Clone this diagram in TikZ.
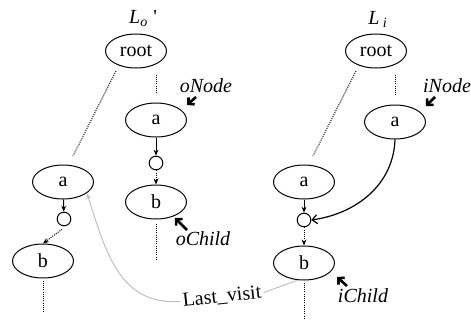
\documentclass[tikz,border=0pt]{standalone}
\usepackage{fontspec}
\setmainfont{Liberation Serif}
\usetikzlibrary{arrows.meta,calc,shapes.geometric}
\begin{document}
\begin{tikzpicture}[x=0.5pt,y=-0.5pt,
  font=\fontsize{10}{12}\selectfont,
  tnode/.style={draw,ellipse,line width=0.5pt,minimum width=30.5pt,minimum height=17pt,inner sep=0pt},
  hub/.style={draw,circle,line width=0.5pt,minimum size=6.8pt,inner sep=0pt},
  dotline/.style={line width=0.5pt,dash pattern=on 0.5pt off 0.6pt},
  arr/.style={line width=0.5pt,-{Stealth[length=3pt,width=2.4pt]}},
  dotarr/.style={dotline,-{Stealth[length=3pt,width=2.4pt]}},
  openarr/.style={line width=0.6pt,-{Straight Barb[length=2.5pt,width=4.5pt]}},
  ptr/.style={line width=1.3pt,-{Straight Barb[length=2.2pt,width=4.6pt]}},
  lbl/.style={font=\fontsize{10}{12}\selectfont\itshape,inner sep=0pt},
  visit/.style={line width=0.5pt,draw=black!25},
]
\useasboundingbox (0,0) rectangle (471,322);

% list titles
\node (lo) at (143,19) {\textit{L}\textsubscript{\textit{o}} \textquotesingle};
\node (li) at (378,19) {\textit{L}\,\textsubscript{\textit{i}}};

% L_o' tree
\node[tnode] (oroot) at (136,51) {root};
\node[tnode] (oa) at (156,120) {a};
\node[hub]   (oc) at (156,163) {};
\node[tnode] (ob) at (156,202) {b};
\node[tnode] (la) at (63,182) {a};
\node[hub]   (lc) at (64,219) {};
\node[tnode] (lb) at (43,261) {b};

% L_i tree
\node[tnode] (iroot) at (376,51) {root};
\node[tnode] (ia) at (395,122) {a};
\node[tnode] (ra) at (304,182) {a};
\node[hub]   (rc) at (304,220) {};
\node[tnode] (rb) at (304,263) {b};

% elided paths below the roots
\draw[dotline] ($(oroot)+(-10pt,-10pt)$) -- ($(la)+(5pt,13pt)$);
\draw[dotline] ($(oroot.south -| oa)+(0,-3pt)$) -- ($(oa.north)+(0,4.5pt)$);
\draw[dotline] ($(iroot)+(-10pt,-10pt)$) -- ($(ra)+(4.5pt,13pt)$);
\draw[dotline] ($(iroot.south -| ia)+(0,-3pt)$) -- ($(ia.north)+(0,4.5pt)$);

% child links
\draw[arr] (oa) -- (oc);
\draw[dotarr] (oc) -- (ob);
\draw[arr] (la) -- (lc);
\draw[dotarr] ($(lc.south)+(-1pt,-1.5pt)$) -- (lb.north);
\draw[arr] (ra) -- (rc);
\draw[dotarr] (rc) -- (rb);
\draw[openarr] (ia.south) to[out=-92,in=8] (rc.east);

% elided paths below the leaves
\draw[dotline] ($(ob.south)+(0,-2pt)$) -- ++(0,-18pt);
\draw[dotline] ($(lb.south)+(0,-1pt)$) -- ++(0,-16pt);
\draw[dotline] ($(rb.south)+(0,-1pt)$) -- ++(0,-18pt);

% pointer labels
\node[lbl] (onl) at (206,86) {oNode};
\node[lbl] (inl) at (447,86) {iNode};
\node[lbl] (ocl) at (203,239) {oChild};
\node[lbl] (icl) at (363,296) {iChild};
\coordinate (ontail) at (196,97);  \coordinate (onhead) at (187,105);
\coordinate (intail) at (435,97);  \coordinate (inhead) at (426,106);
\coordinate (octail) at (187,230); \coordinate (ochead) at (175,218);
\coordinate (ictail) at (347,286); \coordinate (ichead) at (337,277);
\draw[ptr] (ontail) -- (onhead);
\draw[ptr] (intail) -- (inhead);
\draw[ptr] (octail) -- (ochead);
\draw[ptr] (ictail) -- (ichead);

% last visited link
\node[rotate=6,inner sep=1pt] (lv) at (222,297) {Last\_visit};
\draw[visit] (rb.250) -- (lv.east);
\draw[visit,-{Stealth[length=3pt,width=2.4pt]}] (lv.west) to[out=184,in=-72,looseness=1.1] (la.-25);
\end{tikzpicture}
\end{document}
